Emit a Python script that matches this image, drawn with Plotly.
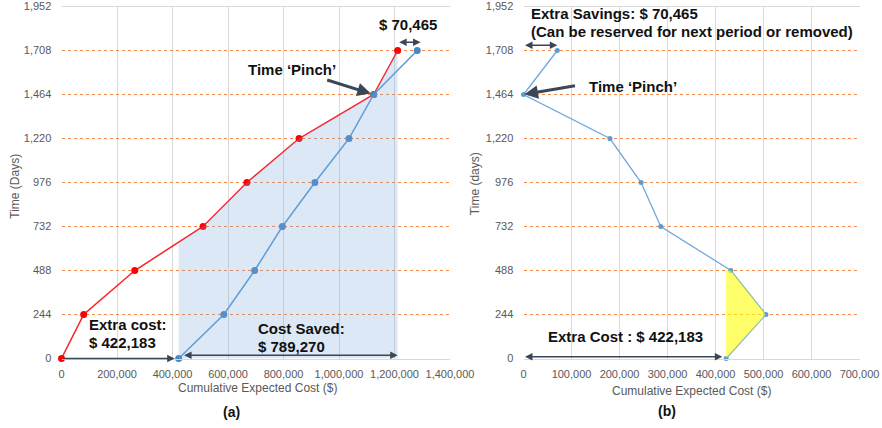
import numpy as np
import plotly.graph_objects as go

# ---------------- data ----------------
time_days = [0, 244, 488, 732, 976, 1220, 1464, 1708]
cost_red = [0, 80000, 264000, 510000, 668000, 856000, 1125000, 1211453]
cost_blue = [422183, 585000, 696000, 796000, 913000, 1036000, 1125000, 1281918]
cost_diff = [422183, 505000, 432000, 286000, 245000, 180000, 0, 70465]
y_ticks = [0, 244, 488, 732, 976, 1220, 1464, 1708, 1952]

FONT = "Liberation Sans, Arial, sans-serif"
GRAY = "#595959"
GRID = "#D9D9D9"
ORANGE = "#F08A4B"
ARROW = "#3B4656"

fig = go.Figure()

# ---------------- left panel ----------------
fig.add_trace(go.Scatter(x=cost_red, y=time_days, mode="lines+markers",
                         line=dict(color="#FF2020", width=1.5),
                         marker=dict(color="#FF0000", size=7),
                         cliponaxis=False, xaxis="x", yaxis="y", showlegend=False))
fig.add_trace(go.Scatter(x=cost_blue, y=time_days, mode="lines+markers",
                         line=dict(color="#5B9BD5", width=1.5),
                         marker=dict(color="#4A86C5", size=7),
                         cliponaxis=False, xaxis="x", yaxis="y", showlegend=False))
# shaded area under red line between blue start and red end
shade_x = [cost_blue[0]] + cost_red[3:]
shade_y = [float(np.interp(cost_blue[0], cost_red, time_days))] + time_days[3:]
fig.add_trace(go.Scatter(x=shade_x, y=shade_y, mode="lines", fill="tozeroy",
                         line=dict(width=0, color="rgba(0,0,0,0)"),
                         fillcolor="rgba(120,165,215,0.26)",
                         xaxis="x", yaxis="y", showlegend=False, hoverinfo="skip"))

# ---------------- right panel ----------------
fig.add_trace(go.Scatter(x=cost_diff, y=time_days, mode="lines+markers",
                         line=dict(color="#6FA8DC", width=1.3),
                         marker=dict(color="#5B9BD5", size=5),
                         cliponaxis=False, xaxis="x2", yaxis="y2", showlegend=False))
yel_x = [cost_diff[0], cost_diff[0], cost_diff[2], cost_diff[1], cost_diff[0]]
yel_y = [time_days[0], time_days[2], time_days[2], time_days[1], time_days[0]]
fig.add_trace(go.Scatter(x=yel_x, y=yel_y, mode="lines", fill="toself",
                         line=dict(width=0, color="rgba(0,0,0,0)"),
                         fillcolor="rgba(255,255,0,0.58)",
                         xaxis="x2", yaxis="y2", showlegend=False, hoverinfo="skip"))

tickfont = dict(family=FONT, size=11, color=GRAY)

def xax(domain, rng, dtick, anchor):
    return dict(domain=domain, range=rng, dtick=dtick, tick0=0, tickformat=",",
                showgrid=True, gridcolor=GRID, gridwidth=1, zeroline=False,
                showline=True, linecolor=GRID, linewidth=1, mirror=True,
                ticks="outside", ticklen=5, tickcolor="rgba(0,0,0,0)",
                tickfont=tickfont, anchor=anchor, fixedrange=True, automargin=False)

def yax(domain, anchor):
    return dict(domain=domain, range=[0, 1952], tickmode="array", tickvals=y_ticks,
                tickformat=",", showgrid=True, gridcolor=ORANGE, gridwidth=1,
                griddash="dot", zeroline=False, showline=False,
                ticks="outside", ticklen=7, tickcolor="rgba(0,0,0,0)",
                tickfont=tickfont, anchor=anchor, fixedrange=True, automargin=False)

bold = dict(family=FONT, size=15, color="#111111")
cm = dict(xanchor="center", yanchor="middle", showarrow=False)

annotations = [
    # axis titles & panel labels
    dict(text="Cumulative Expected Cost ($)", x=0.2914, y=0.0925, xref="paper", yref="paper",
         font=dict(family=FONT, size=12, color=GRAY), **cm),
    dict(text="Cumulative Expected Cost ($)", x=0.7842, y=0.0871, xref="paper", yref="paper",
         font=dict(family=FONT, size=12, color=GRAY), **cm),
    dict(text="Time (Days)", x=0.017, y=0.566, xref="paper", yref="paper", textangle=-90,
         font=dict(family=FONT, size=12, color=GRAY), **cm),
    dict(text="Time (days)", x=0.5385, y=0.572, xref="paper", yref="paper", textangle=-90,
         font=dict(family=FONT, size=12, color=GRAY), **cm),
    dict(text="<b>(a)</b>", x=0.262, y=0.038, xref="paper", yref="paper",
         font=dict(family=FONT, size=14, color="#111111"), **cm),
    dict(text="<b>(b)</b>", x=0.756, y=0.0405, xref="paper", yref="paper",
         font=dict(family=FONT, size=14, color="#111111"), **cm),

    # left panel texts
    dict(text="<b>$ 70,465</b>", x=1248000, y=1850, xref="x", yref="y", font=bold, **cm),
    dict(text="<b>Time ‘Pinch’</b>", x=830000, y=1602, xref="x", yref="y", font=bold, **cm),
    dict(text="<b>Extra cost:</b>", x=92000, y=186, xref="x", yref="y", xanchor="left",
         yanchor="middle", showarrow=False, font=bold),
    dict(text="<b>$ 422,183</b>", x=92000, y=88, xref="x", yref="y", xanchor="left",
         yanchor="middle", showarrow=False, font=bold),
    dict(text="<b>Cost Saved:</b>", x=700000, y=164, xref="x", yref="y", xanchor="left",
         yanchor="middle", showarrow=False, font=bold),
    dict(text="<b>$ 789,270</b>", x=700000, y=66, xref="x", yref="y", xanchor="left",
         yanchor="middle", showarrow=False, font=bold),

    # left panel arrows
    dict(text="", x=cost_blue[-1] + 12000, y=1754, ax=cost_red[-1], ay=1754,
         xref="x", yref="y", axref="x", ayref="y", showarrow=True, arrowside="end+start",
         arrowhead=2, arrowsize=1, arrowwidth=1.5, arrowcolor=ARROW),
    dict(text="", x=cost_red[6], y=time_days[6], ax=-48, ay=-15, xref="x", yref="y",
         showarrow=True, arrowhead=2, arrowsize=0.9, arrowwidth=3, standoff=3, arrowcolor=ARROW),
    dict(text="", x=cost_blue[0], y=0, ax=0, ay=0, xref="x", yref="y", axref="x", ayref="y",
         showarrow=True, arrowhead=2, arrowsize=1, arrowwidth=1.5, standoff=4, arrowcolor=ARROW),
    dict(text="", x=cost_red[-1], y=18, ax=cost_blue[0] + 14000, ay=18,
         xref="x", yref="y", axref="x", ayref="y", showarrow=True, arrowside="end+start",
         arrowhead=2, arrowsize=1, arrowwidth=1.5, arrowcolor=ARROW),

    # right panel texts
    dict(text="<b>Extra Savings: $ 70,465</b>", x=12000, y=1915, xref="x2", yref="y2",
         xanchor="left", yanchor="middle", showarrow=False, font=bold),
    dict(text="<b>(Can be reserved for next period or removed)</b>", x=12000, y=1815,
         xref="x2", yref="y2", xanchor="left", yanchor="middle", showarrow=False, font=bold),
    dict(text="<b>Time ‘Pinch’</b>", x=133000, y=1510, xref="x2", yref="y2", xanchor="left",
         yanchor="middle", showarrow=False, font=bold),
    dict(text="<b>Extra Cost : $ 422,183</b>", x=212000, y=120, xref="x2", yref="y2",
         font=bold, **cm),

    # right panel arrows
    dict(text="", x=cost_diff[-1], y=1737, ax=0, ay=1737, xref="x2", yref="y2",
         axref="x2", ayref="y2", showarrow=True, arrowside="end+start",
         arrowhead=2, arrowsize=1, arrowwidth=1.5, arrowcolor=ARROW),
    dict(text="", x=cost_diff[6], y=time_days[6], ax=53, ay=-9, xref="x2", yref="y2",
         showarrow=True, arrowhead=2, arrowsize=0.9, arrowwidth=3, standoff=1, arrowcolor=ARROW),
    dict(text="", x=cost_diff[0] - 8000, y=10, ax=0, ay=10, xref="x2", yref="y2",
         axref="x2", ayref="y2", showarrow=True, arrowside="end+start",
         arrowhead=2, arrowsize=1, arrowwidth=1.5, arrowcolor=ARROW),
]

H = 428.0
fig.update_layout(
    width=882, height=428,
    margin=dict(l=0, r=0, t=0, b=0, autoexpand=False),
    paper_bgcolor="white", plot_bgcolor="white",
    xaxis=xax([61.5 / 882, 450.0 / 882], [0, 1400000], 200000, "y"),
    yaxis=yax([1 - 358.5 / H, 1 - 6.5 / H], "x"),
    xaxis2=xax([523.5 / 882, 859.5 / 882], [0, 700000], 100000, "y2"),
    yaxis2=yax([1 - 358.5 / H, 1 - 6.5 / H], "x2"),
    annotations=annotations,
    font=dict(family=FONT),
)

fig.write_html("out.html", config={"displayModeBar": False},
               post_script="document.body.style.margin='0';document.body.style.padding='0';")
